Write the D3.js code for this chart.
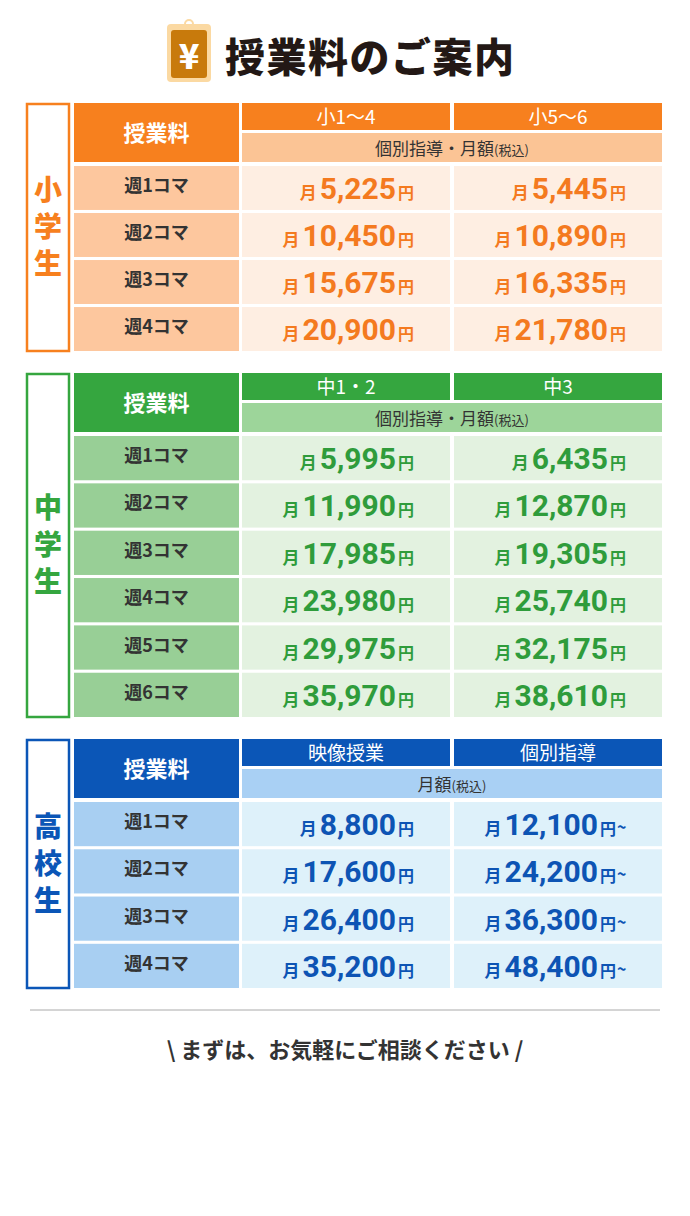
<!DOCTYPE html>
<html><head><meta charset="utf-8">
<script src="https://cdn.jsdelivr.net/npm/d3@7"></script>
<style>body{margin:0;background:#fff;font-family:"Noto Sans CJK JP","Noto Sans",sans-serif;}</style>
</head><body><div id="chart"></div>
<script>
// ---- data
var groups     = ['小学生', '中学生', '高校生'];
var cols1      = ['小1〜4', '小5〜6'];
var cols2      = ['中1・2', '中3'];
var cols3      = ['映像授業', '個別指導'];
var subLabels  = ['個別指導・月額', '個別指導・月額', '月額'];
var rows1      = ['週1コマ', '週2コマ', '週3コマ', '週4コマ'];
var rows2      = ['週1コマ', '週2コマ', '週3コマ', '週4コマ', '週5コマ', '週6コマ'];
var rows3      = ['週1コマ', '週2コマ', '週3コマ', '週4コマ'];
var prices1    = [[5225, 5445], [10450, 10890], [15675, 16335], [20900, 21780]];
var prices2    = [[5995, 6435], [11990, 12870], [17985, 19305], [23980, 25740], [29975, 32175], [35970, 38610]];
var prices3    = [[8800, 12100], [17600, 24200], [26400, 36300], [35200, 48400]];
var fromMark   = [false, false, true];

var themes = [
  {main:'#f7801e', sub:'#fbc495', label:'#fdc79e', cell:'#feeee2', text:'#f47a1f'},
  {main:'#35a63f', sub:'#9dd59a', label:'#98cf96', cell:'#e3f2e0', text:'#2f9c3b'},
  {main:'#0b56b7', sub:'#a9d0f4', label:'#a8cff2', cell:'#def1fa', text:'#0d54b4'}
];
var tables = [
  {top:103, bottom:351, cols:cols1, rows:rows1, prices:prices1},
  {top:373, bottom:717, cols:cols2, rows:rows2, prices:prices2},
  {top:739, bottom:988, cols:cols3, rows:rows3, prices:prices3}
];

var W = 690, H = 1216;
var svg = d3.select('#chart').append('svg').attr('width', W).attr('height', H);
var fmt = d3.format(',');

// ---- title
var title = svg.append('g');
title.append('rect').attr('x', 167).attr('y', 24).attr('width', 44).attr('height', 58).attr('rx', 4).attr('fill', '#fbd9a2');
title.append('rect').attr('x', 171).attr('y', 30).attr('width', 36).attr('height', 48).attr('rx', 3).attr('fill', '#c87a0c');
title.append('circle').attr('cx', 189).attr('cy', 24).attr('r', 4).attr('fill', 'none').attr('stroke', '#fbd9a2').attr('stroke-width', 2);
title.append('text').attr('x', 189).attr('y', 69).attr('text-anchor', 'middle').attr('fill', '#fff')
  .attr('font-size', 34).attr('font-weight', 900).text('¥');
title.append('text').attr('x', 225).attr('y', 72).attr('fill', '#231815')
  .attr('font-size', 40).attr('font-weight', 900).attr('letter-spacing', 1.5).text('授業料のご案内');

// ---- tables
var x = d3.scaleOrdinal().range([242, 454]);
var colW = 208, labX = 74, labW = 165;

tables.forEach(function(t, gi){
  var th = themes[gi];
  var g = svg.append('g');
  var headTop = t.top, dataTop = t.top + 63, bottom = t.bottom;
  var y = d3.scaleBand().domain(t.rows).range([dataTop, bottom]).paddingInner(0.065).paddingOuter(0);
  x.domain(t.cols);

  // group label box
  g.append('rect').attr('x', 27).attr('y', headTop + 1).attr('width', 42).attr('height', bottom - headTop - 1)
    .attr('fill', '#fff').attr('stroke', th.main).attr('stroke-width', 2.5);
  var chars = groups[gi].split('');
  chars.forEach(function(c, i){
    g.append('text').attr('x', 48).attr('y', (headTop + bottom) / 2 + (i - 1) * 37 + 10)
      .attr('text-anchor', 'middle').attr('fill', th.main).attr('font-size', 28).attr('font-weight', 900).text(c);
  });

  // header
  g.append('rect').attr('x', labX).attr('y', headTop).attr('width', labW).attr('height', 59).attr('fill', th.main);
  g.append('text').attr('x', labX + labW / 2).attr('y', headTop + 38).attr('text-anchor', 'middle')
    .attr('fill', '#fff').attr('font-size', 22).attr('font-weight', 700).text('授業料');
  g.selectAll('.colhead').data(t.cols).enter().append('rect')
    .attr('x', function(d){ return x(d); }).attr('y', headTop).attr('width', colW).attr('height', 27).attr('fill', th.main);
  g.selectAll('.coltxt').data(t.cols).enter().append('text')
    .attr('x', function(d){ return x(d) + colW / 2; }).attr('y', headTop + 21).attr('text-anchor', 'middle')
    .attr('fill', '#fff').attr('font-size', 19).text(function(d){ return d; });
  g.append('rect').attr('x', 242).attr('y', headTop + 30).attr('width', 420).attr('height', 29).attr('fill', th.sub);
  var st = g.append('text').attr('x', 452).attr('y', headTop + 52).attr('text-anchor', 'middle')
    .attr('fill', '#333').attr('font-size', 17);
  st.append('tspan').text(subLabels[gi]);
  st.append('tspan').attr('font-size', 13).text('(税込)');

  // rows
  g.selectAll('.rowlab').data(t.rows).enter().append('rect')
    .attr('x', labX).attr('y', function(d){ return y(d); }).attr('width', labW).attr('height', y.bandwidth()).attr('fill', th.label);
  g.selectAll('.rowtxt').data(t.rows).enter().append('text')
    .attr('x', labX + labW / 2).attr('y', function(d){ return y(d) + y.bandwidth() / 2 + 4; }).attr('text-anchor', 'middle')
    .attr('fill', '#333').attr('font-size', 18).attr('font-weight', 700).text(function(d){ return d; });

  t.rows.forEach(function(r, ri){
    t.cols.forEach(function(c, ci){
      g.append('rect').attr('x', x(c)).attr('y', y(r)).attr('width', colW).attr('height', y.bandwidth()).attr('fill', th.cell);
      var right = x(c) + (fromMark[gi] && ci == 1 ? 162 : 172);
      var tx = g.append('text').attr('x', right).attr('y', y(r) + y.bandwidth() / 2 + 11)
        .attr('text-anchor', 'end').attr('fill', th.text).attr('font-weight', 700);
      tx.append('tspan').attr('font-size', 17).text('月');
      tx.append('tspan').attr('font-size', 30).attr('dx', 3).attr('font-family', 'Roboto, sans-serif').attr('font-weight', 700).text(fmt(t.prices[ri][ci]));
      tx.append('tspan').attr('font-size', 16).attr('dx', 2).text('円');
      if (fromMark[gi] && ci == 1) {
        g.append('text').attr('x', right + 1).attr('y', y(r) + y.bandwidth() / 2 + 9)
          .attr('fill', th.text).attr('font-size', 16).attr('font-weight', 700).text('~');
      }
    });
  });
});

// ---- footer
svg.append('line').attr('x1', 30).attr('x2', 660).attr('y1', 1010).attr('y2', 1010).attr('stroke', '#aaa').attr('stroke-width', 1);
svg.append('text').attr('x', 345).attr('y', 1058).attr('text-anchor', 'middle').attr('fill', '#333')
  .attr('font-size', 22).attr('font-weight', 700).text('\\ まずは、お気軽にご相談ください /');
</script></body></html>
